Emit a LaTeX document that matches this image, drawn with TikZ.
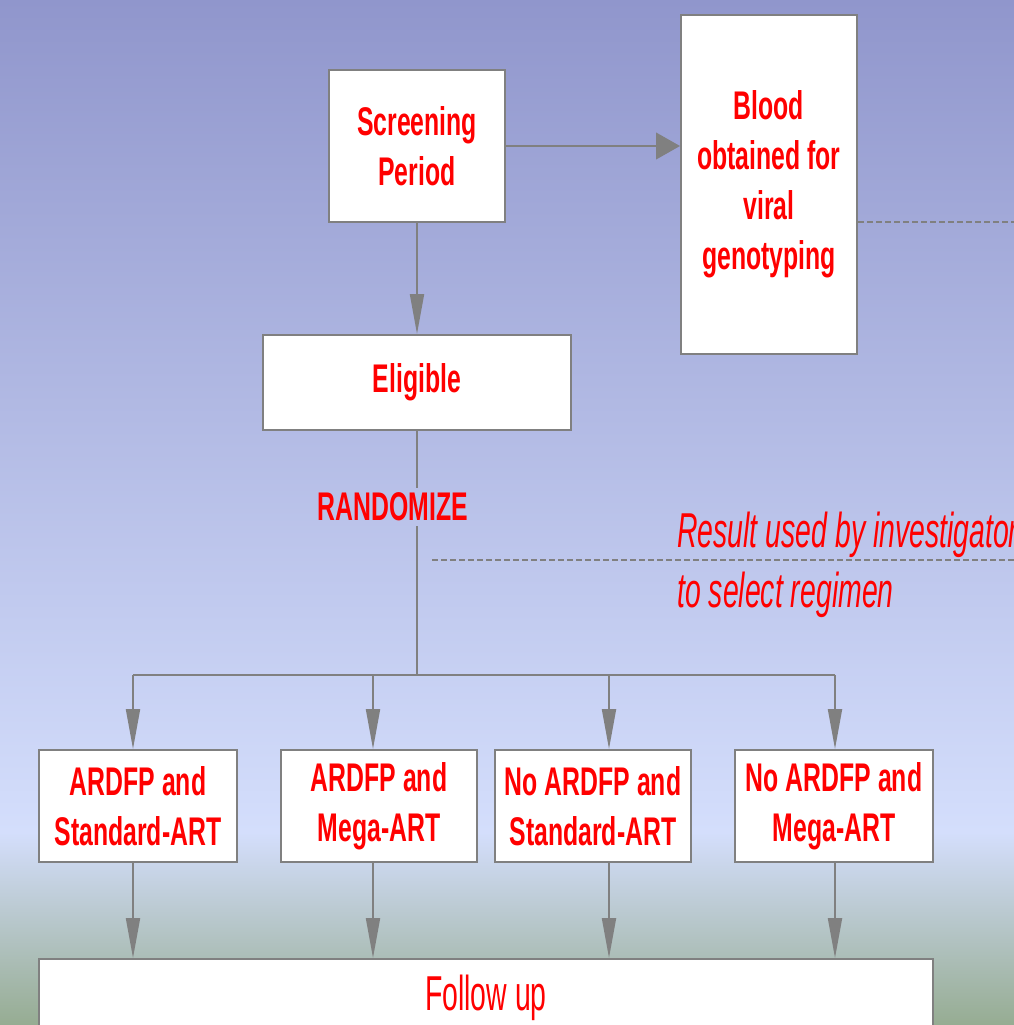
\documentclass[tikz,border=0pt]{standalone}
\usepackage{fontspec}
\setmainfont{Liberation Sans}[FakeStretch=0.62]
\newfontfamily\narrowfont{Liberation Sans}[FakeStretch=0.58]
\usetikzlibrary{arrows.meta}

\definecolor{linegray}{RGB}{128,128,128}
% picture spans 25bp..75bp of the shading
\pgfdeclareverticalshading{slidebg}{100bp}{rgb(0bp)=(0.588,0.675,0.573); rgb(25bp)=(0.588,0.675,0.573); rgb(34.4bp)=(0.831,0.871,0.988); rgb(75bp)=(0.565,0.588,0.8); rgb(100bp)=(0.565,0.588,0.8)}

\tikzset{
  box/.style={draw=linegray, line width=1.5pt, fill=white, align=center, text=red,
    inner sep=0pt, font=\bfseries\fontsize{30}{37.5}\selectfont},
  link/.style={draw=linegray, line width=1.5pt},
  flow/.style={link, -{Triangle[length=30pt,width=10.5pt]}},
  flowh/.style={link, -{Triangle[length=18pt,width=20pt]}},
  hint/.style={draw=linegray, line width=1.1pt, dash pattern=on 4.5pt off 2.25pt},
  notetext/.style={anchor=base west, text=red, inner sep=0pt, font=\narrowfont\itshape\fontsize{36.75}{45}\selectfont},
}

\begin{document}
\begin{tikzpicture}[x=0.75pt,y=-0.75pt]
      \useasboundingbox (0,0) rectangle (1014,1025);
      \clip (0,0) rectangle (1014,1025);
      \shade[shading=slidebg] (0,0) rectangle (1014,1025);

      % screening and genotyping
      \node[box, minimum width=132pt, minimum height=114pt] (screen) at (417,146) {Screening\\Period};
      \node[box, minimum width=132pt, minimum height=254.25pt] (blood) at (769,184.5) {Blood\\obtained for\\viral\\genotyping};
      \node[box, minimum width=231pt, minimum height=71.25pt] (elig) at (417,382.5) {Eligible};
      \node[text=red, inner sep=3.5pt, font=\bfseries\fontsize{30}{37.5}\selectfont] (rand) at (393,507) {RANDOMIZE};

      \node[notetext] (result) at (677,547) {Result used by investigator};
      \node[notetext] (regimen) at (677,607) {to select regimen};

      % the four arms
      \node[box, minimum width=148.5pt, minimum height=84pt] (arm1) at (138,806) {ARDFP and\\Standard-ART};
      \node[box, minimum width=147pt, minimum height=84pt] (arm2) at (379,806) {ARDFP and\\Mega-ART};
      \node[box, minimum width=147pt, minimum height=84pt] (arm3) at (593,806) {No ARDFP and\\Standard-ART};
      \node[box, minimum width=148.5pt, minimum height=84pt] (arm4) at (834,806) {No ARDFP and\\Mega-ART};

      \node[box, font=\narrowfont\fontsize{36.75}{45}\selectfont, minimum width=670.5pt, minimum height=57.75pt] (follow) at (486,997.5) {Follow up};

      % connectors
      \draw[flowh] (screen.east) -- (screen.east -| blood.west);
      \draw[flow] (screen.south) -- (elig.north);
      \draw[link] (elig.south) -- (elig.south |- rand.north);
      \coordinate (bL) at (133,675);
      \coordinate (bR) at (835,675);
      \draw[link] (elig.south |- rand.south) -- (elig.south |- bL);
      \draw[link] (bL) -- (bR);
      \foreach \i/\x in {1/133,2/373,3/609,4/835} {
        \coordinate (b\i) at (\x,675);
        \draw[flow] (b\i) -- (b\i |- arm\i.north);
        \draw[flow] (b\i |- arm\i.south) -- (b\i |- follow.north);
      }

      % dashed hints
      \coordinate (edgeA) at (1014,222);
      \coordinate (hintL) at (432,560);
      \coordinate (hintR) at (1014,560);
      \draw[hint] (blood.east |- edgeA) -- (edgeA);
      \draw[hint] (hintL) -- (hintR);
\end{tikzpicture}
\end{document}
